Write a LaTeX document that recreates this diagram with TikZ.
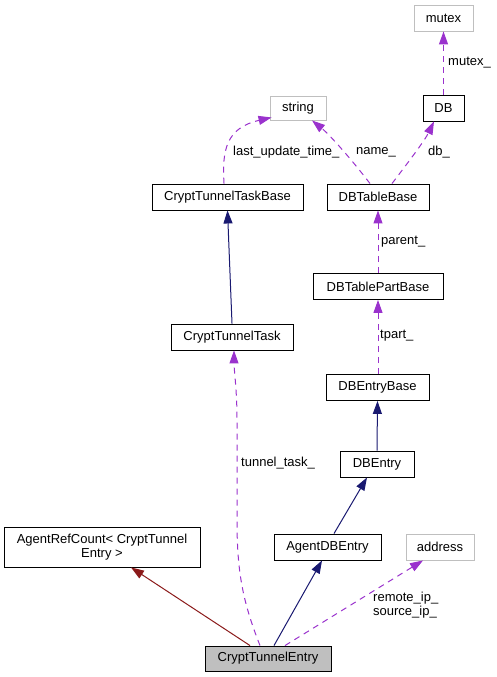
\documentclass[tikz,border=0pt]{standalone}
\usepackage{fontspec}
\setmainfont{Liberation Sans}
\usetikzlibrary{arrows.meta}
\definecolor{undoc}{HTML}{BFBFBF}
\definecolor{inherit}{HTML}{191970}
\definecolor{privinherit}{HTML}{8B1A1A}
\definecolor{usage}{HTML}{9A32CD}
\begin{document}
\begin{tikzpicture}[x=1bp,y=-1bp,
  font=\fontsize{13bp}{14bp}\selectfont,
  cls/.style={draw=black, line width=0.9bp, rectangle, inner sep=0pt,
              minimum height=26bp, fill=white, align=center},
  ext/.style={cls, draw=undoc},
  tipA/.style={-{Triangle[length=13bp,width=9bp]}},
  pub/.style={tipA, draw=inherit, line width=1bp},
  priv/.style={tipA, draw=privinherit, line width=1bp},
  uses/.style={tipA, draw=usage, line width=1bp, dash pattern=on 6bp off 5bp},
  lbl/.style={anchor=west, inner sep=0pt}]
\useasboundingbox (0,0) rectangle (497,677);

% class boxes
\node[ext, minimum width=59bp] (mutex) at (443.5,18) {mutex};
\node[ext, minimum width=56bp, minimum height=24bp] (string) at (298,108) {string};
\node[cls, minimum width=41bp] (db) at (443.5,108) {DB};
\node[cls, minimum width=151bp] (cttb) at (227.5,197) {CryptTunnelTaskBase};
\node[cls, minimum width=102bp] (dbtb) at (378,197) {DBTableBase};
\node[cls, minimum width=130bp] (dbtpb) at (378,286.5) {DBTablePartBase};
\node[cls, minimum width=122bp] (ctt) at (232,337) {CryptTunnelTask};
\node[cls, minimum width=103bp] (dbeb) at (377.5,387.5) {DBEntryBase};
\node[cls, minimum width=74bp] (dbe) at (377,464) {DBEntry};
\node[cls, minimum width=107bp] (adbe) at (327.5,547) {AgentDBEntry};
\node[ext, minimum width=68bp] (addr) at (440,547) {address};
\node[cls, minimum width=196bp, minimum height=40bp] (arc) at (102,547)
  {AgentRefCount< CryptTunnel\\Entry >};
\node[cls, fill=undoc, minimum width=126bp, minimum height=25bp] (cte) at (268,658.5) {CryptTunnelEntry};

% inheritance
\draw[priv] ([xshift=-18bp]cte.north) -- ([xshift=29bp]arc.south);
\draw[pub] ([xshift=6bp]cte.north) -- ([xshift=-5.5bp]adbe.south);
\draw[pub] ([xshift=6.5bp]adbe.north) -- ([xshift=-10bp]dbe.south);
\draw[pub] (dbe.north) -- (dbeb.south);
\draw[pub] (ctt.north) -- (cttb.south);

% member usage
\draw[uses] ([xshift=17bp]cte.north) -- ([xshift=-17bp]addr.south);
\node[lbl, align=left] (ipl) at (373,605) {remote\_ip\_\\source\_ip\_};

\draw[uses] ([xshift=-8bp]cte.north) .. controls (242,600) and (237,570) .. (237,520)
  -- (237,420) .. controls (237,390) and (234,370) .. ([xshift=2bp]ctt.south);
\node[lbl] (ttl) at (241,463) {tunnel\_task\_};

\draw[uses] (dbeb.north -| dbtpb.south) -- (dbtpb.south);
\node[lbl] (tpl) at (380,336) {tpart\_};

\draw[uses] (dbtpb.north) -- (dbtb.south);
\node[lbl] (pal) at (381,242) {parent\_};

\draw[uses] ([xshift=-8bp]dbtb.north) .. controls (352,160) and (330,135) .. ([xshift=14bp]string.south);
\node[lbl] (nal) at (356,152) {name\_};

\draw[uses] ([xshift=14bp]dbtb.north) .. controls (410,160) and (425,140) .. ([xshift=-9.5bp]db.south);
\node[lbl] (dbl) at (428,152) {db\_};

\draw[uses] (db.north) -- (mutex.south);
\node[lbl] (mxl) at (448,63) {mutex\_};

\draw[uses] ([xshift=-3.5bp]cttb.north) .. controls (222,150) and (226,128) .. ([shift={(2,-3)}]string.south west);
\node[lbl] (lul) at (233,152) {last\_update\_time\_};
\end{tikzpicture}
\end{document}
